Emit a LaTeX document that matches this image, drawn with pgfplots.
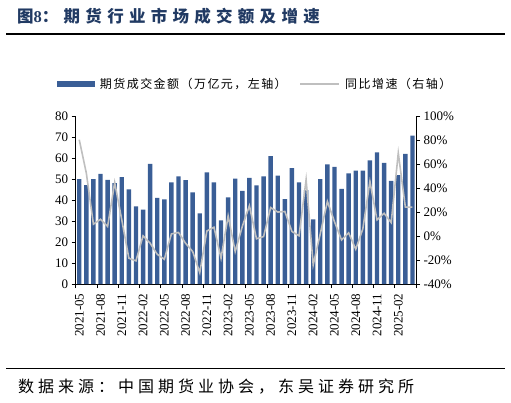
\documentclass[border=0pt]{standalone}
\usepackage{pgfplots}
\usepackage{pgfplotstable}
\pgfplotsset{compat=1.18}
\usepackage{fontspec}
\setmainfont{Liberation Serif}
\newfontfamily\cjktitle[LetterSpace=32]{Noto Sans CJK SC}
\newfontfamily\cjkleg[LetterSpace=12]{Noto Sans CJK SC}
\newfontfamily\cjksrc[LetterSpace=25]{Noto Sans CJK SC}
\definecolor{barblue}{RGB}{58,94,150}
\definecolor{linegray}{RGB}{191,191,191}
\definecolor{titleblue}{RGB}{33,58,99}

\pgfplotstableread{
x vol yoy
0 50.0 80.4
1 47.1 52.5
2 50.0 9.9
3 52.5 14.0
4 49.7 8.0
5 48.1 44.7
6 51.0 13.5
7 45.1 -18.5
8 37.0 -20.7
9 35.4 0.2
10 57.3 -6.0
11 41.1 -15.2
12 40.3 -19.4
13 48.4 1.8
14 51.3 3.0
15 49.5 -6.0
16 43.7 -12.9
17 33.7 -30.5
18 53.2 4.2
19 48.4 7.4
20 30.3 -18.5
21 41.3 16.8
22 50.2 -12.9
23 44.4 8.0
24 50.6 25.3
25 47.0 -2.3
26 51.3 -0.4
27 61.0 23.8
28 51.7 20.0
29 40.5 20.5
30 55.2 3.8
31 48.5 0.2
32 44.8 47.0
33 30.8 -24.0
34 50.0 2.0
35 57.0 28.9
36 55.8 12.0
37 45.4 -3.2
38 52.7 2.7
39 54.0 -11.0
40 54.0 6.0
41 58.9 45.6
42 62.7 13.5
43 57.7 19.0
44 49.2 11.3
45 51.9 69.3
46 62.0 24.1
47 70.7 24.1
}\data

\begin{document}
\begin{tikzpicture}
\useasboundingbox (0,0) rectangle (511pt,402pt);

\node[anchor=west, inner sep=0pt, text=titleblue] at (17pt,386pt)
  {\cjktitle\fontsize{16.5}{18}\selectfont\bfseries 图{\rmfamily\bfseries 8}：期货行业市场成交额及增速};
\draw[line width=1.4pt] (6pt,368pt) -- (505pt,368pt);
\draw[line width=1.3pt] (6pt,33.7pt) -- (505pt,33.7pt);
\node[anchor=west, inner sep=0pt] at (18pt,15pt)
  {\cjksrc\fontsize{16}{18}\selectfont 数据来源：中国期货业协会，东吴证券研究所};

\begin{axis}[
  at={(75.7pt,118pt)}, anchor=south west,
  scale only axis, width=340.3pt, height=167.8pt,
  xmin=-0.5, xmax=47.5, ymin=0, ymax=80,
  axis x line*=bottom, axis y line*=left,
  axis line style={black, line width=0.8pt},
  ytick={0,10,...,80},
  xtick={-0.5,2.5,...,47.5}, xticklabels={},
  extra x ticks={0,3,...,45},
  extra x tick labels={2021-05,2021-08,2021-11,2022-02,2022-05,2022-08,2022-11,2023-02,2023-05,2023-08,2023-11,2024-02,2024-05,2024-08,2024-11,2025-02},
  extra x tick style={major tick length=0pt},
  tick align=outside, major tick length=4pt,
  tick style={black, line width=0.8pt},
  xticklabel shift=6pt,
  xticklabel style={rotate=90, anchor=east, font=\fontsize{13}{13}\selectfont},
  yticklabel style={font=\fontsize{13}{13}\selectfont},
  /pgf/number format/assume math mode=true,
  legend style={at={(-0.055,1.192)}, anchor=west, draw=none, fill=none,
    inner sep=0pt, outer sep=0pt, font=\cjkleg\fontsize{12}{12}\selectfont,
    nodes={inner sep=0pt},
    /tikz/every odd column/.append style={column sep=5pt},
    /tikz/every even column/.append style={column sep=13pt}},
  legend columns=2,
]
\addplot[ybar, bar width=4.4pt, fill=barblue, draw=none,
  legend image code/.code={\fill[barblue] (0pt,-2.7pt) rectangle (38pt,2.7pt);}]
  table[x=x, y=vol]{\data};
\addlegendentry{期货成交金额（万亿元，左轴）}
\addlegendimage{legend image code/.code={\draw[linegray, line width=1.5pt] (0pt,0pt) -- (39pt,0pt);}}
\addlegendentry{同比增速（右轴）}
\end{axis}

\begin{axis}[
  at={(75.7pt,118pt)}, anchor=south west,
  scale only axis, width=340.3pt, height=167.8pt,
  xmin=-0.5, xmax=47.5, ymin=-40, ymax=100,
  axis x line=none, axis y line*=right,
  axis line style={black, line width=0.8pt},
  ytick={-40,-20,...,100},
  yticklabels={-40\%,-20\%,0\%,20\%,40\%,60\%,80\%,100\%},
  tick align=outside, major tick length=4pt,
  tick style={black, line width=0.8pt},
  yticklabel style={font=\fontsize{13}{13}\selectfont},
]
\addplot[linegray, line width=1.6pt, mark=none] table[x=x, y=yoy]{\data};
\end{axis}
\end{tikzpicture}
\end{document}
